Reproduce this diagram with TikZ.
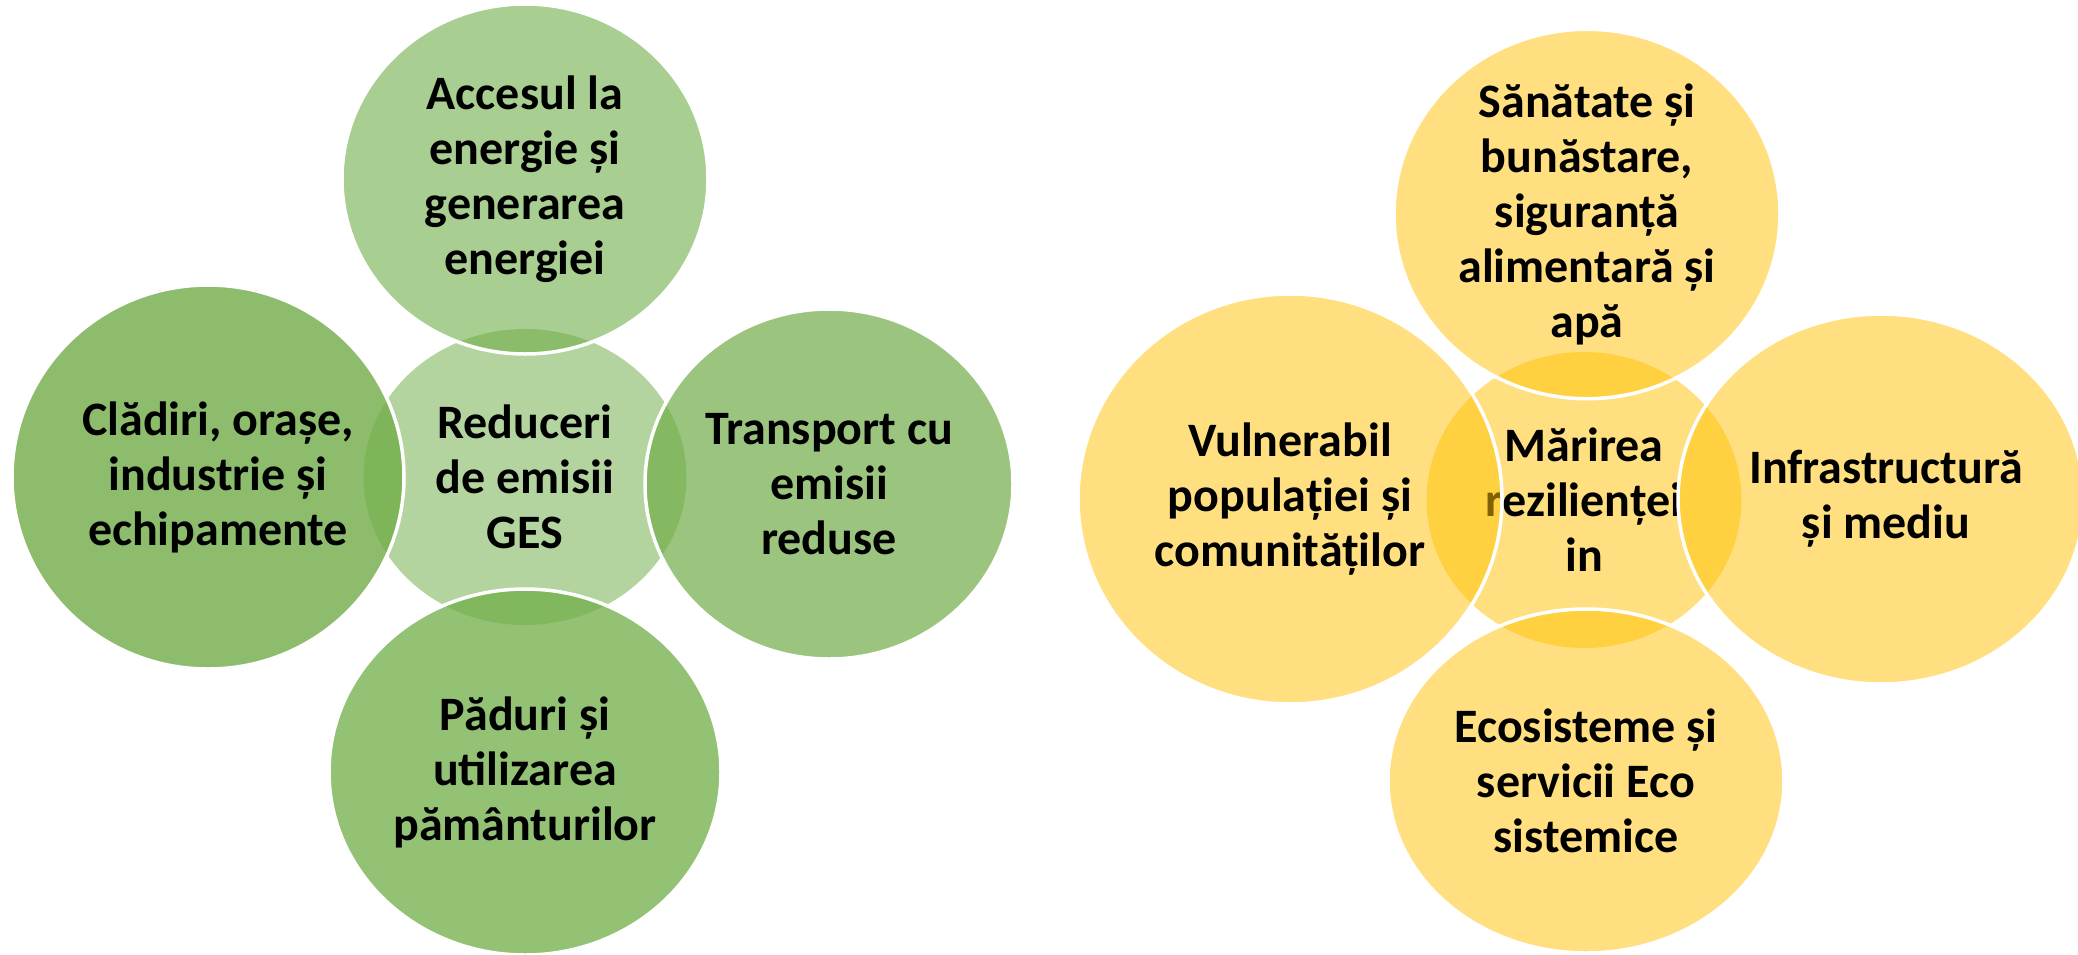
\documentclass[tikz,border=0pt]{standalone}
\usepackage{fontspec}
\setmainfont{Carlito}
\usetikzlibrary{shapes.geometric}
\definecolor{gr}{HTML}{70AD47}
\definecolor{ye}{HTML}{FFC000}
\tikzset{
 blob/.style={ellipse, inner sep=0pt, outer sep=0pt, draw=white, line width=3.5pt,
   text opacity=1, align=center, text=black,
   font=\fontsize{48}{55}\selectfont\bfseries},
 hub/.style={blob, draw=none},
 txt/.style={inner sep=0pt, align=center, text=black, font=\fontsize{48}{55}\selectfont\bfseries},
}
\begin{document}
\begin{tikzpicture}[x=1pt,y=-1pt]
\clip (0,0) rectangle (2078,954);
\useasboundingbox (0,0) rectangle (2078,954);
% left diagram
\node[hub, fill=gr, fill opacity=0.53, minimum width=323, minimum height=296] (redu) at (525,477) {Reduceri\\de emisii\\GES};
\node[blob, fill=gr, fill opacity=0.6, minimum width=366, minimum height=350] (acc) at (525,179) {Accesul la\\energie și\\generarea\\energiei};
\node[blob, fill=gr, fill opacity=0.8, minimum width=392, minimum height=384] (cla) at (208,477) {};
\node[txt] (claT) at ([xshift=10]cla.center) {Clădiri, orașe,\\industrie și\\echipamente};
\node[blob, fill=gr, fill opacity=0.7, minimum width=368, minimum height=350] (tra) at (829,484) {Transport cu\\emisii\\reduse};
\node[blob, fill=gr, fill opacity=0.75, minimum width=392, minimum height=366] (pad) at (525,772) {Păduri și\\utilizarea\\pământurilor};
% right diagram
\node[hub, fill=ye, fill opacity=0.5, minimum width=315, minimum height=296] (mar) at (1584,500) {Mărirea\\rezilienței\\in};
\node[blob, fill=ye, fill opacity=0.5, minimum width=386, minimum height=336] (san) at (1587,214) {Sănătate și\\bunăstare,\\siguranță\\alimentară și\\apă};
\node[blob, fill=ye, fill opacity=0.5, minimum width=424, minimum height=410] (vul) at (1290,499) {Vulnerabil\\populației și\\comunităților};
\node[blob, fill=ye, fill opacity=0.5, minimum width=406, minimum height=370] (inf) at (1881,499) {};
\node[txt] (infT) at ([xshift=5]inf.center) {Infrastructură\\și mediu};
\node[blob, fill=ye, fill opacity=0.5, minimum width=396, minimum height=344] (eco) at (1586,781) {Ecosisteme și\\servicii Eco\\sistemice};
\end{tikzpicture}
\end{document}
